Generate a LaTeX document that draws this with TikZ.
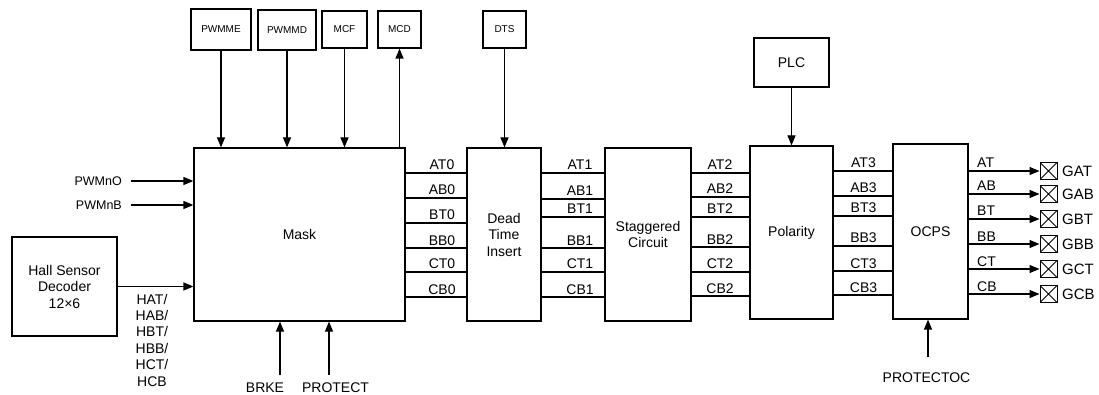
\documentclass[tikz,border=0pt]{standalone}
\usepackage{fontspec}
\setmainfont{Liberation Sans}
\usetikzlibrary{arrows.meta,calc}
\begin{document}
\begin{tikzpicture}[x=1pt,y=-1pt,
 box/.style={draw,line width=1.2pt,inner sep=0,align=center,font=\fontsize{14}{16.5}\selectfont},
 sbox/.style={box,font=\fontsize{10}{12}\selectfont},
 lbl/.style={inner sep=0,font=\fontsize{14}{16.4}\selectfont},
 slbl/.style={inner sep=0,font=\fontsize{12.5}{15}\selectfont},
 glbl/.style={inner sep=0,font=\fontsize{15}{17}\selectfont},
 sig/.style={line width=1.2pt},
 arr/.style={line width=1.2pt,-{Triangle[length=10pt,width=8pt]}},
 xbox/.style={draw,line width=1pt,minimum size=17pt,inner sep=0,
   path picture={\draw[line width=1pt] (path picture bounding box.south west)--(path picture bounding box.north east) (path picture bounding box.north west)--(path picture bounding box.south east);}}
]
\useasboundingbox (0,0) rectangle (1099,395);

% main blocks
\node[box,minimum width=211pt,minimum height=173pt] (mask) at (299.5,234.5) {Mask};
\node[box,minimum width=74pt,minimum height=173pt] (dt) at (504,234.5) {Dead\\Time\\Insert};
\node[box,minimum width=86pt,minimum height=173pt] (stag) at (648,234.5) {Staggered\\Circuit};
\node[box,minimum width=83pt,minimum height=173pt] (pol) at (791.5,232.5) {Polarity};
\node[box,minimum width=75pt,minimum height=175pt] (ocps) at (930.5,231.5) {OCPS};
\node[box,minimum width=105pt,minimum height=99pt] (hall) at (64.5,286.5) {Hall Sensor\\Decoder\\12×6};

% top boxes
\node[sbox,minimum width=60pt,minimum height=41pt] (pwmme) at (221,29.5) {PWMME};
\node[sbox,minimum width=58pt,minimum height=40pt] (pwmmd) at (287,30) {PWMMD};
\node[sbox,minimum width=45pt,minimum height=37pt] (mcf) at (344.5,29.5) {MCF};
\node[sbox,minimum width=43pt,minimum height=37pt] (mcd) at (399.5,29.5) {MCD};
\node[sbox,minimum width=43pt,minimum height=37pt] (dts) at (504.5,29.5) {DTS};
\node[box,minimum width=75pt,minimum height=49pt] (plc) at (791.5,62.5) {PLC};

\draw[arr] (pwmme.south) -- (pwmme.south |- mask.north);
\draw[arr] (pwmmd.south) -- (pwmmd.south |- mask.north);
\draw[arr] (mcf.south) -- (mcf.south |- mask.north);
\draw[arr] (mcd.south |- mask.north) -- (mcd.south);
\draw[arr] (dts.south) -- (dts.south |- dt.north);
\draw[arr] (plc.south) -- (plc.south |- pol.north);

% left inputs
\node[slbl,anchor=east] (pwmno) at (122,181) {PWMnO};
\node[slbl,anchor=east] (pwmnb) at (122,205) {PWMnB};
\draw[arr] ([xshift=9pt]pwmno.east) -- (pwmno.east -| mask.west);
\draw[arr] ([xshift=9pt]pwmnb.east) -- (pwmnb.east -| mask.west);
\draw[arr] (hall.east) -- (hall.east -| mask.west);
\node[lbl,align=center] (hlab) at (152,340) {HAT/\\HAB/\\HBT/\\HBB/\\HCT/\\HCB};

% bottom inputs
\node[lbl] (brke) at (265,388) {BRKE};
\node[lbl] (prot) at (335.5,388) {PROTECT};
\node[lbl] (protoc) at (926.5,378) {PROTECTOC};
\coordinate (brkeS) at (280,375);
\coordinate (protS) at (329,375);
\coordinate (protocS) at (928,357);
\draw[arr] (brkeS) -- (brkeS |- mask.south);
\draw[arr] (protS) -- (protS |- mask.south);
\draw[arr] (protocS) -- (protocS |- ocps.south);

% signal buses
\foreach \y/\t in {173/AT0,198/AB0,223/BT0,248/BB0,272/CT0,297/CB0}{
  \draw[sig] (mask.east |- 0,\y) -- (dt.west |- 0,\y);
  \node[lbl,anchor=base] (a\t) at (442,{\y-3}) {\t};
}
\foreach \y/\t in {173/AT1,199/AB1,217/BT1,248/BB1,272/CT1,297/CB1}{
  \draw[sig] (dt.east |- 0,\y) -- (stag.west |- 0,\y);
  \node[lbl,anchor=base] (b\t) at (580,{\y-3}) {\t};
}
\foreach \y/\t in {173/AT2,197/AB2,217/BT2,247/BB2,272/CT2,296/CB2}{
  \draw[sig] (stag.east |- 0,\y) -- (pol.west |- 0,\y);
  \node[lbl,anchor=base] (c\t) at (720,{\y-3}) {\t};
}
\foreach \y/\t in {171/AT3,196/AB3,216/BT3,246/BB3,271/CT3,295/CB3}{
  \draw[sig] (pol.east |- 0,\y) -- (ocps.west |- 0,\y);
  \node[lbl,anchor=base] (d\t) at (863.5,{\y-3}) {\t};
}

% outputs
\foreach \y/\t/\g in {171/AT/GAT,194/AB/GAB,219/BT/GBT,244/BB/GBB,269/CT/GCT,294/CB/GCB}{
  \node[xbox] (x\g) at (1048.5,\y) {};
  \draw[arr] (ocps.east |- 0,\y) -- (x\g.west);
  \node[lbl,anchor=base west] (o\t) at (977,{\y-3}) {\t};
  \node[glbl,anchor=west] (g\g) at (1062,\y) {\g};
}
\end{tikzpicture}
\end{document}
